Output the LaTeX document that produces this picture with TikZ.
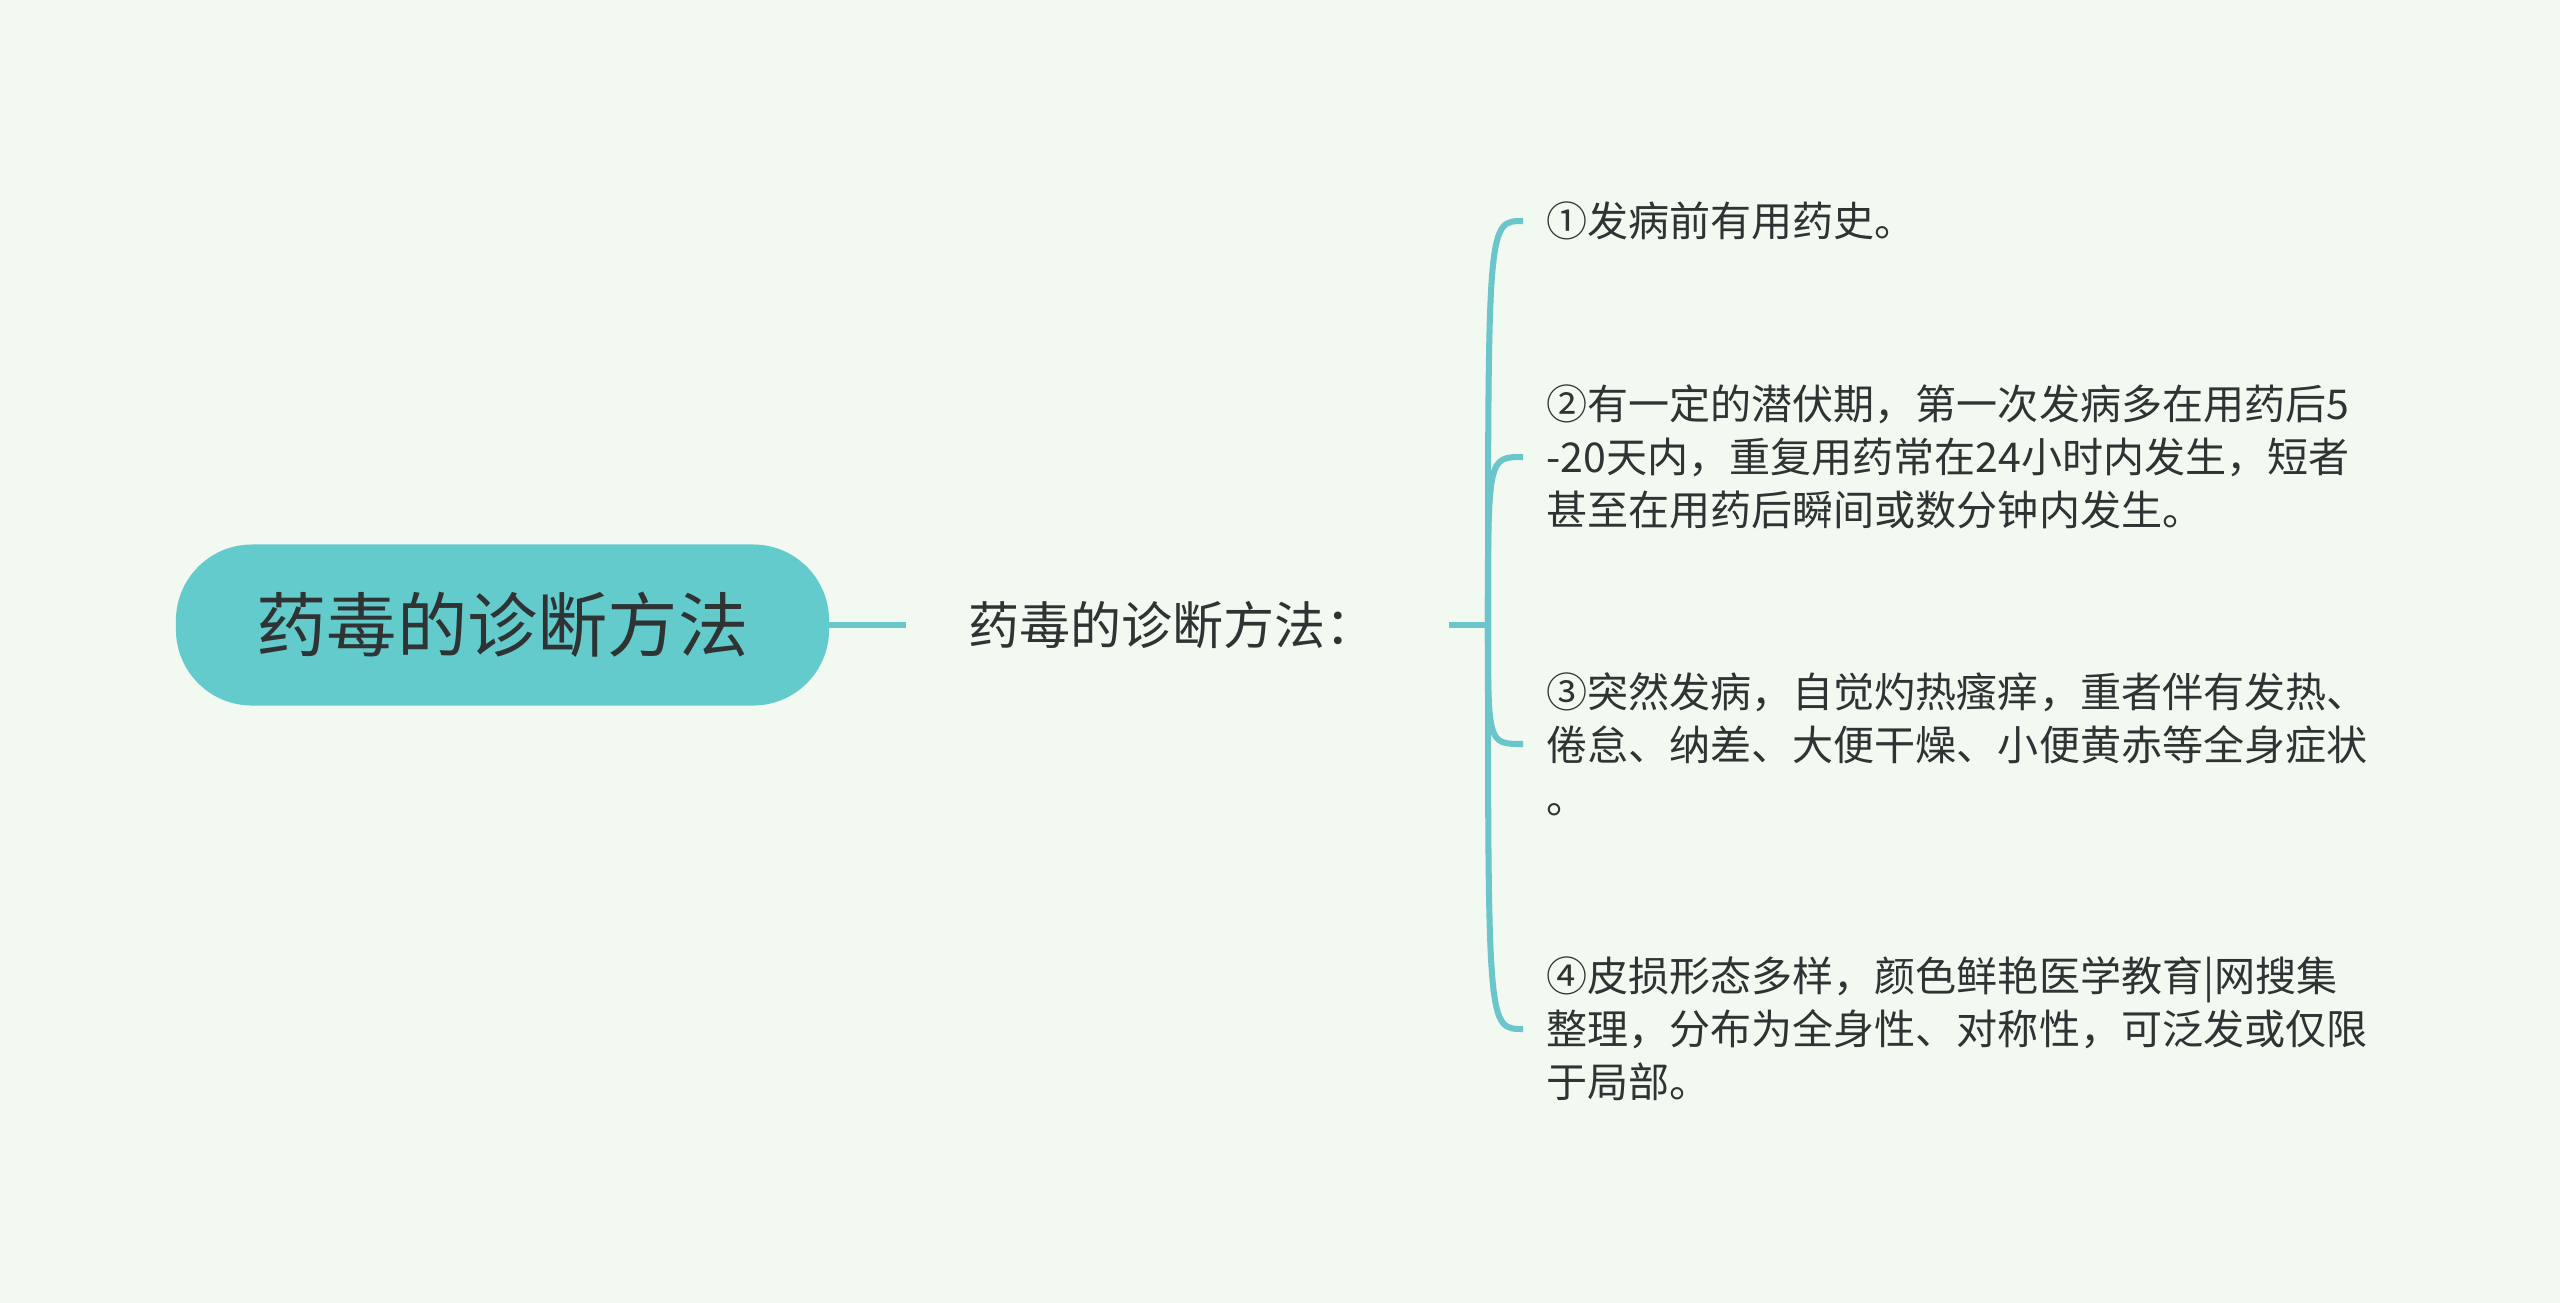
\documentclass[tikz,border=0pt]{standalone}
\usepackage{fontspec}
\setmainfont{Noto Sans CJK SC}
\definecolor{bgmint}{HTML}{F1F9F0}
\definecolor{rootteal}{HTML}{64CBCC}
\definecolor{linkteal}{HTML}{6BC6CB}
\definecolor{inkgray}{HTML}{2F3333}
\tikzset{
  rootbox/.style={rectangle, rounded corners=1.9cm, fill=rootteal, text=inkgray,
    minimum width=16.325cm, minimum height=4.025cm,
    font=\fontsize{50pt}{60pt}\selectfont},
  subtext/.style={anchor=west, inner xsep=1.55cm, inner ysep=0pt, text=inkgray,
    font=\fontsize{36.3pt}{44pt}\selectfont},
  leaftext/.style={anchor=west, align=left, inner xsep=0.575cm, inner ysep=0pt, text=inkgray,
    font=\fontsize{29.2pt}{37.7pt}\selectfont},
  link/.style={draw=linkteal, line width=4.3pt}
}
\begin{document}
\begin{tikzpicture}[x=0.025cm, y=-0.025cm]
        % Draw the background
        \fill[bgmint] (0, 0) rectangle (2560, 1303);
        \useasboundingbox (0, 0) rectangle (2560, 1303);

        % Draw the root and the first branch
        \node[rootbox] (root) at (502.5, 625) {药毒的诊断方法};
        \node[subtext] (method) at (906, 625) {药毒的诊断方法：};
        \coordinate (fork) at (1488, 625);

        % Draw the four points
        \node[leaftext] (history) at (1523, 221) {①发病前有用药史。};
        \node[leaftext] (latency) at (1523, 457) {②有一定的潜伏期，第一次发病多在用药后5\\-20天内，重复用药常在24小时内发生，短者\\甚至在用药后瞬间或数分钟内发生。};
        \node[leaftext] (onset) at (1523, 744) {③突然发病，自觉灼热瘙痒，重者伴有发热、\\倦怠、纳差、大便干燥、小便黄赤等全身症状\\。};
        \node[leaftext] (lesion) at (1523, 1029) {④皮损形态多样，颜色鲜艳医学教育|网搜集\\整理，分布为全身性、对称性，可泛发或仅限\\于局部。};

        % Draw the links
        \draw[link] (root.east) -- (method.west);
        \draw[link, shorten <=0.25cm] (method.east) -- (fork);
        \foreach \leaf in {history, latency, onset, lesion}
          \draw[link] (fork) .. controls (fork |- \leaf.west) .. (\leaf.west);
    \end{tikzpicture}
\end{document}
